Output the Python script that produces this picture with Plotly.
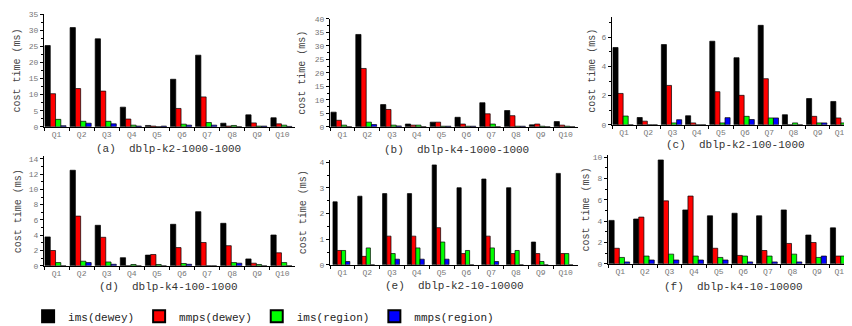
import plotly.graph_objects as go

W, H = 852, 326

queries = ["Q1", "Q2", "Q3", "Q4", "Q5", "Q6", "Q7", "Q8", "Q9", "Q10"]
series_names = ["ims(dewey)", "mmps(dewey)", "ims(region)", "mmps(region)"]
series_colors = ["#000000", "#ff0000", "#00ff00", "#0000ff"]

# (a) dblp-k2-1000-1000
a_ims_dewey = [25.3, 30.9, 27.4, 6.1, 0.4, 14.8, 22.3, 1.1, 3.7, 2.8]
a_mmps_dewey = [10.3, 11.9, 11.1, 2.4, 0.2, 5.7, 9.3, 0.2, 1.2, 0.9]
a_ims_region = [2.3, 1.7, 1.7, 0.5, 0.0, 0.8, 1.3, 0.4, 0.2, 0.5]
a_mmps_region = [0.3, 1.1, 0.9, 0.2, 0.2, 0.5, 0.5, 0.0, 0.2, 0.1]

# (b) dblp-k4-1000-1000
b_ims_dewey = [5.4, 34.2, 8.2, 1.0, 1.7, 3.5, 8.9, 6.0, 0.7, 1.9]
b_mmps_dewey = [2.4, 21.6, 6.4, 0.6, 1.7, 1.0, 4.8, 4.1, 1.0, 0.6]
b_ims_region = [0.6, 1.7, 0.6, 0.6, 0.2, 0.2, 1.0, 0.2, 0.2, 0.2]
b_mmps_region = [0.0, 0.8, 0.3, 0.0, 0.2, 0.2, 0.0, 0.2, 0.0, 0.0]

# (c) dblp-k2-100-1000
c_ims_dewey = [5.3, 0.5, 5.5, 0.62, 5.73, 4.6, 6.82, 0.69, 1.8, 1.6]
c_mmps_dewey = [2.15, 0.25, 2.7, 0.13, 2.27, 2.02, 3.16, 0.0, 0.58, 0.47]
c_ims_region = [0.6, 0.0, 0.13, 0.0, 0.13, 0.58, 0.47, 0.13, 0.13, 0.13]
c_mmps_region = [0.0, 0.0, 0.35, 0.0, 0.49, 0.36, 0.47, 0.0, 0.13, 0.0]

# (d) dblp-k4-100-1000
d_ims_dewey = [3.78, 12.5, 5.3, 1.06, 1.4, 5.43, 7.08, 5.56, 0.9, 4.03]
d_mmps_dewey = [2.0, 6.5, 3.73, 0.0, 1.48, 2.38, 3.05, 2.63, 0.34, 1.7]
d_ims_region = [0.42, 0.6, 0.5, 0.17, 0.17, 0.3, 0.0, 0.42, 0.17, 0.42]
d_mmps_region = [0.0, 0.42, 0.2, 0.0, 0.0, 0.2, 0.0, 0.34, 0.0, 0.0]

# (e) dblp-k2-10-10000
e_ims_dewey = [2.46, 2.68, 2.78, 2.78, 3.9, 3.01, 3.35, 3.01, 0.89, 3.57]
e_mmps_dewey = [0.56, 0.33, 1.12, 1.12, 1.45, 0.44, 1.12, 0.44, 0.44, 0.44]
e_ims_region = [0.56, 0.66, 0.44, 0.66, 0.89, 0.56, 0.66, 0.56, 0.13, 0.44]
e_mmps_region = [0.13, 0.0, 0.22, 0.22, 0.22, 0.0, 0.13, 0.0, 0.0, 0.0]

# (f) dblp-k4-10-10000
f_ims_dewey = [4.07, 4.2, 9.73, 5.05, 4.5, 4.74, 4.5, 5.05, 2.7, 3.37]
f_mmps_dewey = [1.46, 4.38, 5.9, 6.35, 1.46, 0.79, 1.25, 1.91, 2.0, 0.73]
f_ims_region = [0.6, 0.73, 0.91, 0.73, 0.6, 0.73, 0.73, 0.91, 0.6, 0.73]
f_mmps_region = [0.18, 0.36, 0.36, 0.36, 0.36, 0.18, 0.18, 0.18, 0.73, 0.0]

panel_titles = ["(a)  dblp-k2-1000-1000", "(b)  dblp-k4-1000-1000", "(c)  dblp-k2-100-1000",
                "(d)  dblp-k4-100-1000", "(e)  dblp-k2-10-10000", "(f)  dblp-k4-10-10000"]
panel_data = [
    [a_ims_dewey, a_mmps_dewey, a_ims_region, a_mmps_region],
    [b_ims_dewey, b_mmps_dewey, b_ims_region, b_mmps_region],
    [c_ims_dewey, c_mmps_dewey, c_ims_region, c_mmps_region],
    [d_ims_dewey, d_mmps_dewey, d_ims_region, d_mmps_region],
    [e_ims_dewey, e_mmps_dewey, e_ims_region, e_mmps_region],
    [f_ims_dewey, f_mmps_dewey, f_ims_region, f_mmps_region],
]
y_ranges = [35, 40, 7.4, 14.3, 4.1, 10.2]
y_dticks = [5, 5, 2, 2, 1, 2]

# layout in pixels: (x0, x1, y_top, y_bottom)
boxes = [
    (36, 287, 2.5, 118), (322, 570, 7, 118), (604, 846, 5, 116),
    (36, 287, 148.6, 261), (322, 570, 152, 260), (600, 846, 147, 259),
]
title_pos = [(160, 141), (448, 142), (727, 137), (160, 283), (446, 282), (725, 283)]
ytitle_x = [10, 295, 585, 10, 295, 578]
bar_w = [0.21, 0.21, 0.21, 0.21, 0.17, 0.21]
bar_start = [-0.46, -0.46, -0.46, -0.46, -0.38, -0.46]

MONO = "Liberation Mono"
fig = go.Figure()
layout = dict(
    width=W, height=H, margin=dict(l=0, r=0, t=0, b=0),
    paper_bgcolor="white", plot_bgcolor="white",
    barmode="overlay", font=dict(family=MONO, color="#333333"),
    showlegend=True,
    legend=dict(orientation="h", x=0.3, xanchor="center", y=1 - 313 / H, yanchor="middle",
                font=dict(family=MONO, size=11, color="#222222"), itemwidth=30,
                tracegroupgap=0, itemsizing="constant"),
)
annotations = []
for p in range(6):
    ax = "" if p == 0 else str(p + 1)
    x0, x1, yt, yb = boxes[p]
    for k in range(4):
        fig.add_trace(go.Bar(
            x=queries, y=panel_data[p][k], name=series_names[k],
            marker=dict(color=series_colors[k], line=dict(color="#000000", width=0.7)),
            width=bar_w[p], offset=bar_start[p] + k * bar_w[p],
            xaxis="x" + ax, yaxis="y" + ax,
            legendgroup=series_names[k], showlegend=(p == 0),
        ))
    layout["xaxis" + ax] = dict(
        domain=[x0 / W, x1 / W], anchor="y" + ax, type="category",
        range=[-0.5, 9.5], showline=True, linecolor="#000000", linewidth=1,
        ticks="outside", tickson="boundaries", ticklen=3, tickcolor="#000000",
        tickfont=dict(family=MONO, size=8, color="#777777"), showgrid=False,
        zeroline=False, fixedrange=True,
    )
    layout["yaxis" + ax] = dict(
        domain=[1 - yb / H, 1 - yt / H], anchor="x" + ax,
        range=[0, y_ranges[p]], dtick=y_dticks[p], showline=True, linecolor="#000000",
        linewidth=1, ticks="outside", ticklen=3, tickcolor="#000000",
        minor=dict(ticks="outside", ticklen=2, dtick=y_dticks[p] / 2, tickcolor="#000000"),
        tickfont=dict(family=MONO, size=8, color="#777777"), showgrid=False,
        zeroline=False, fixedrange=True,
    )
    annotations.append(dict(
        text=panel_titles[p], x=title_pos[p][0] / W, y=1 - title_pos[p][1] / H,
        xref="paper", yref="paper", showarrow=False, xanchor="center", yanchor="middle",
        font=dict(family=MONO, size=11, color="#333333"),
    ))
    annotations.append(dict(
        text="cost time (ms)", x=ytitle_x[p] / W, y=1 - (yt + yb) / 2 / H,
        xref="paper", yref="paper", showarrow=False, xanchor="center", yanchor="middle",
        textangle=-90, font=dict(family=MONO, size=10, color="#444444"),
    ))
layout["annotations"] = annotations
fig.update_layout(**layout)
fig.write_html("out.html")
